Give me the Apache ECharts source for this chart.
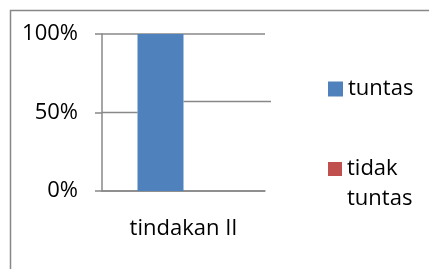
<!DOCTYPE html>
<html><head><meta charset="utf-8">
<script src="https://cdn.jsdelivr.net/npm/echarts@6/dist/echarts.min.js"></script>
<style>html,body{margin:0;padding:0;background:#fff}#c{width:429px;height:269px}</style>
</head><body><div id="c"></div>
<script>
const categories = ['tindakan II'];
const tuntas = [100];
const tidakTuntas = [0];
const yTicks = [0, 50, 100];
const gridArtifactRight = 57; // right half of the 50% gridline appears shifted in the source

const FONT = 'Open Sans';
const GRAY = '#888888';
const chart = echarts.init(document.getElementById('c'), null, {renderer: 'canvas'});
chart.setOption({
  animation: false,
  grid: {left: 102, right: 164, top: 34, bottom: 78},
  xAxis: {
    type: 'category', data: categories,
    axisLine: {lineStyle: {color: GRAY, width: 1.5}},
    axisTick: {length: 8, lineStyle: {color: GRAY, width: 1.5}},
    axisLabel: {fontFamily: FONT, fontSize: 22, color: '#000', margin: 27}
  },
  yAxis: {
    type: 'value', min: yTicks[0], max: yTicks[yTicks.length - 1], interval: 50,
    axisLine: {show: true, lineStyle: {color: GRAY, width: 1.5}},
    axisTick: {show: true, length: 7, lineStyle: {color: GRAY, width: 1.5}},
    splitLine: {show: true, lineStyle: {color: [GRAY, 'transparent', GRAY], width: 1.5}},
    axisLabel: {formatter: '{value}%', fontFamily: FONT, fontSize: 22, color: '#000', margin: 24}
  },
  legend: [
    {data: [{name: 'tuntas', icon: 'rect'}], orient: 'vertical', left: 328, top: 78, padding: 0,
     itemWidth: 15, itemHeight: 15, itemGap: 6,
     textStyle: {fontFamily: FONT, fontSize: 22, color: '#000'}},
    {data: [{name: 'tidak tuntas', icon: 'rect'}], orient: 'vertical', left: 328, top: 124, padding: 0,
     itemWidth: 14, itemHeight: 14, itemGap: 6,
     formatter: n => ' \n' + n.replace(' ', '\n'),
     textStyle: {fontFamily: FONT, fontSize: 22, lineHeight: 30, color: '#000'}}
  ],
  series: [
    {name: 'tuntas', type: 'bar', data: tuntas, barWidth: 46, barGap: '0%', itemStyle: {color: '#4F81BD'}, z: 1},
    {name: 'tidak tuntas', type: 'bar', data: tidakTuntas, barWidth: 46, itemStyle: {color: '#C0504D'}, z: 1}
  ]
});
const rect = chart.getModel().getComponent('grid').coordinateSystem.getRect();
const y50 = chart.convertToPixel({yAxisIndex: 0}, 50);
const yArt = chart.convertToPixel({yAxisIndex: 0}, gridArtifactRight);
const barLeft = chart.convertToPixel({xAxisIndex: 0}, categories[0]) - 46;
const barRight = barLeft + 46;
chart.setOption({
  graphic: [
    {type: 'rect', shape: {x: 10.5, y: 10.5, width: 600, height: 600},
     style: {fill: 'none', stroke: GRAY, lineWidth: 1.5}, silent: true, z: 100},
    {type: 'line', shape: {x1: rect.x, y1: y50, x2: barLeft, y2: y50}, style: {stroke: GRAY, lineWidth: 1.5}, z: 0},
    {type: 'line', shape: {x1: barRight, y1: yArt, x2: rect.x + rect.width + 6, y2: yArt}, style: {stroke: GRAY, lineWidth: 1.5}, z: 0}
  ]
});
</script></body></html>
